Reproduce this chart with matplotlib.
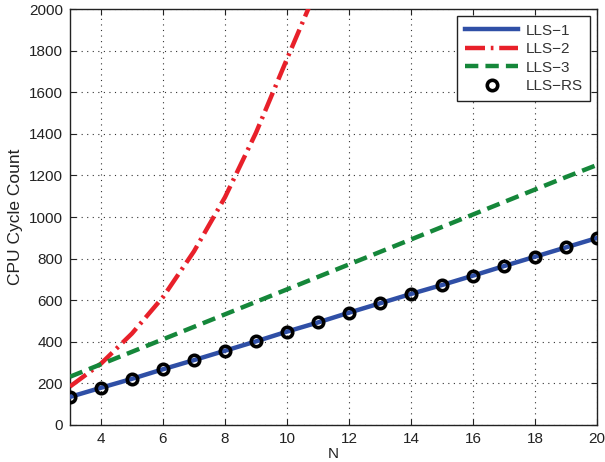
import matplotlib
matplotlib.use("Agg")
import matplotlib.pyplot as plt

N = list(range(3, 21))
lls1 = [135, 179, 222, 268, 312, 357, 402, 449, 493, 540, 585, 630, 673, 718, 764, 809, 854, 899]
lls_rs = [135, 179, 222, 268, 312, 357, 402, 449, 493, 540, 585, 630, 673, 718, 764, 809, 854, 899]
lls3 = [232, 292, 352, 412, 472, 532, 592, 652, 712, 772, 832, 892, 952, 1012, 1072, 1132, 1192, 1250]
N2 = list(range(3, 12))
lls2 = [185, 295, 440, 615, 835, 1095, 1405, 1760, 2110]

plt.rcParams['font.family'] = ['Liberation Sans', 'DejaVu Sans']
fig = plt.figure(figsize=(6.05, 4.62), dpi=100)
ax = fig.add_axes([0.1157, 0.0801, 0.871, 0.9004])

ax.plot(N, lls1, color='#2f4fa6', lw=3.2, label='LLS\u22121', zorder=3)
ax.plot(N2, lls2, color='#e8202a', lw=3.2, ls=(0, (4.5, 1.3, 0.6, 1.3)), label='LLS\u22122', zorder=3)
ax.plot(N, lls3, color='#15873a', lw=3.2, ls=(0, (3, 1.6)), label='LLS\u22123', zorder=3)
ax.plot(N, lls_rs, ls='none', marker='o', ms=7.5, mfc='none', mec='black', mew=2.6, label='LLS\u2212RS', zorder=4)

ax.set_xlim(3, 20)
ax.set_ylim(0, 2000)
ax.set_xticks([4, 6, 8, 10, 12, 14, 16, 18, 20])
ax.set_yticks(range(0, 2001, 200))
ax.grid(True, color='#333333', ls=(0, (1, 4)), lw=0.8)
ax.tick_params(direction='in', top=True, right=True, labelsize=11, colors='#222222', length=4, pad=5)
for s in ax.spines.values():
    s.set_color('#222222')
    s.set_linewidth(1.0)
ax.set_xlabel('N', fontsize=11, color='#222222', labelpad=1)
ax.set_ylabel('CPU Cycle Count', fontsize=12.5, color='#222222', labelpad=4)

leg = ax.legend(loc='upper right', fontsize=11, frameon=True, fancybox=False,
                edgecolor='#222222', framealpha=1, handlelength=3.5,
                borderaxespad=0.45, labelspacing=0.3, handletextpad=0.45, borderpad=0.5)
leg.get_frame().set_linewidth(1.0)
for t in leg.get_texts():
    t.set_color('#333333')

fig.savefig('out.png', dpi=100)
